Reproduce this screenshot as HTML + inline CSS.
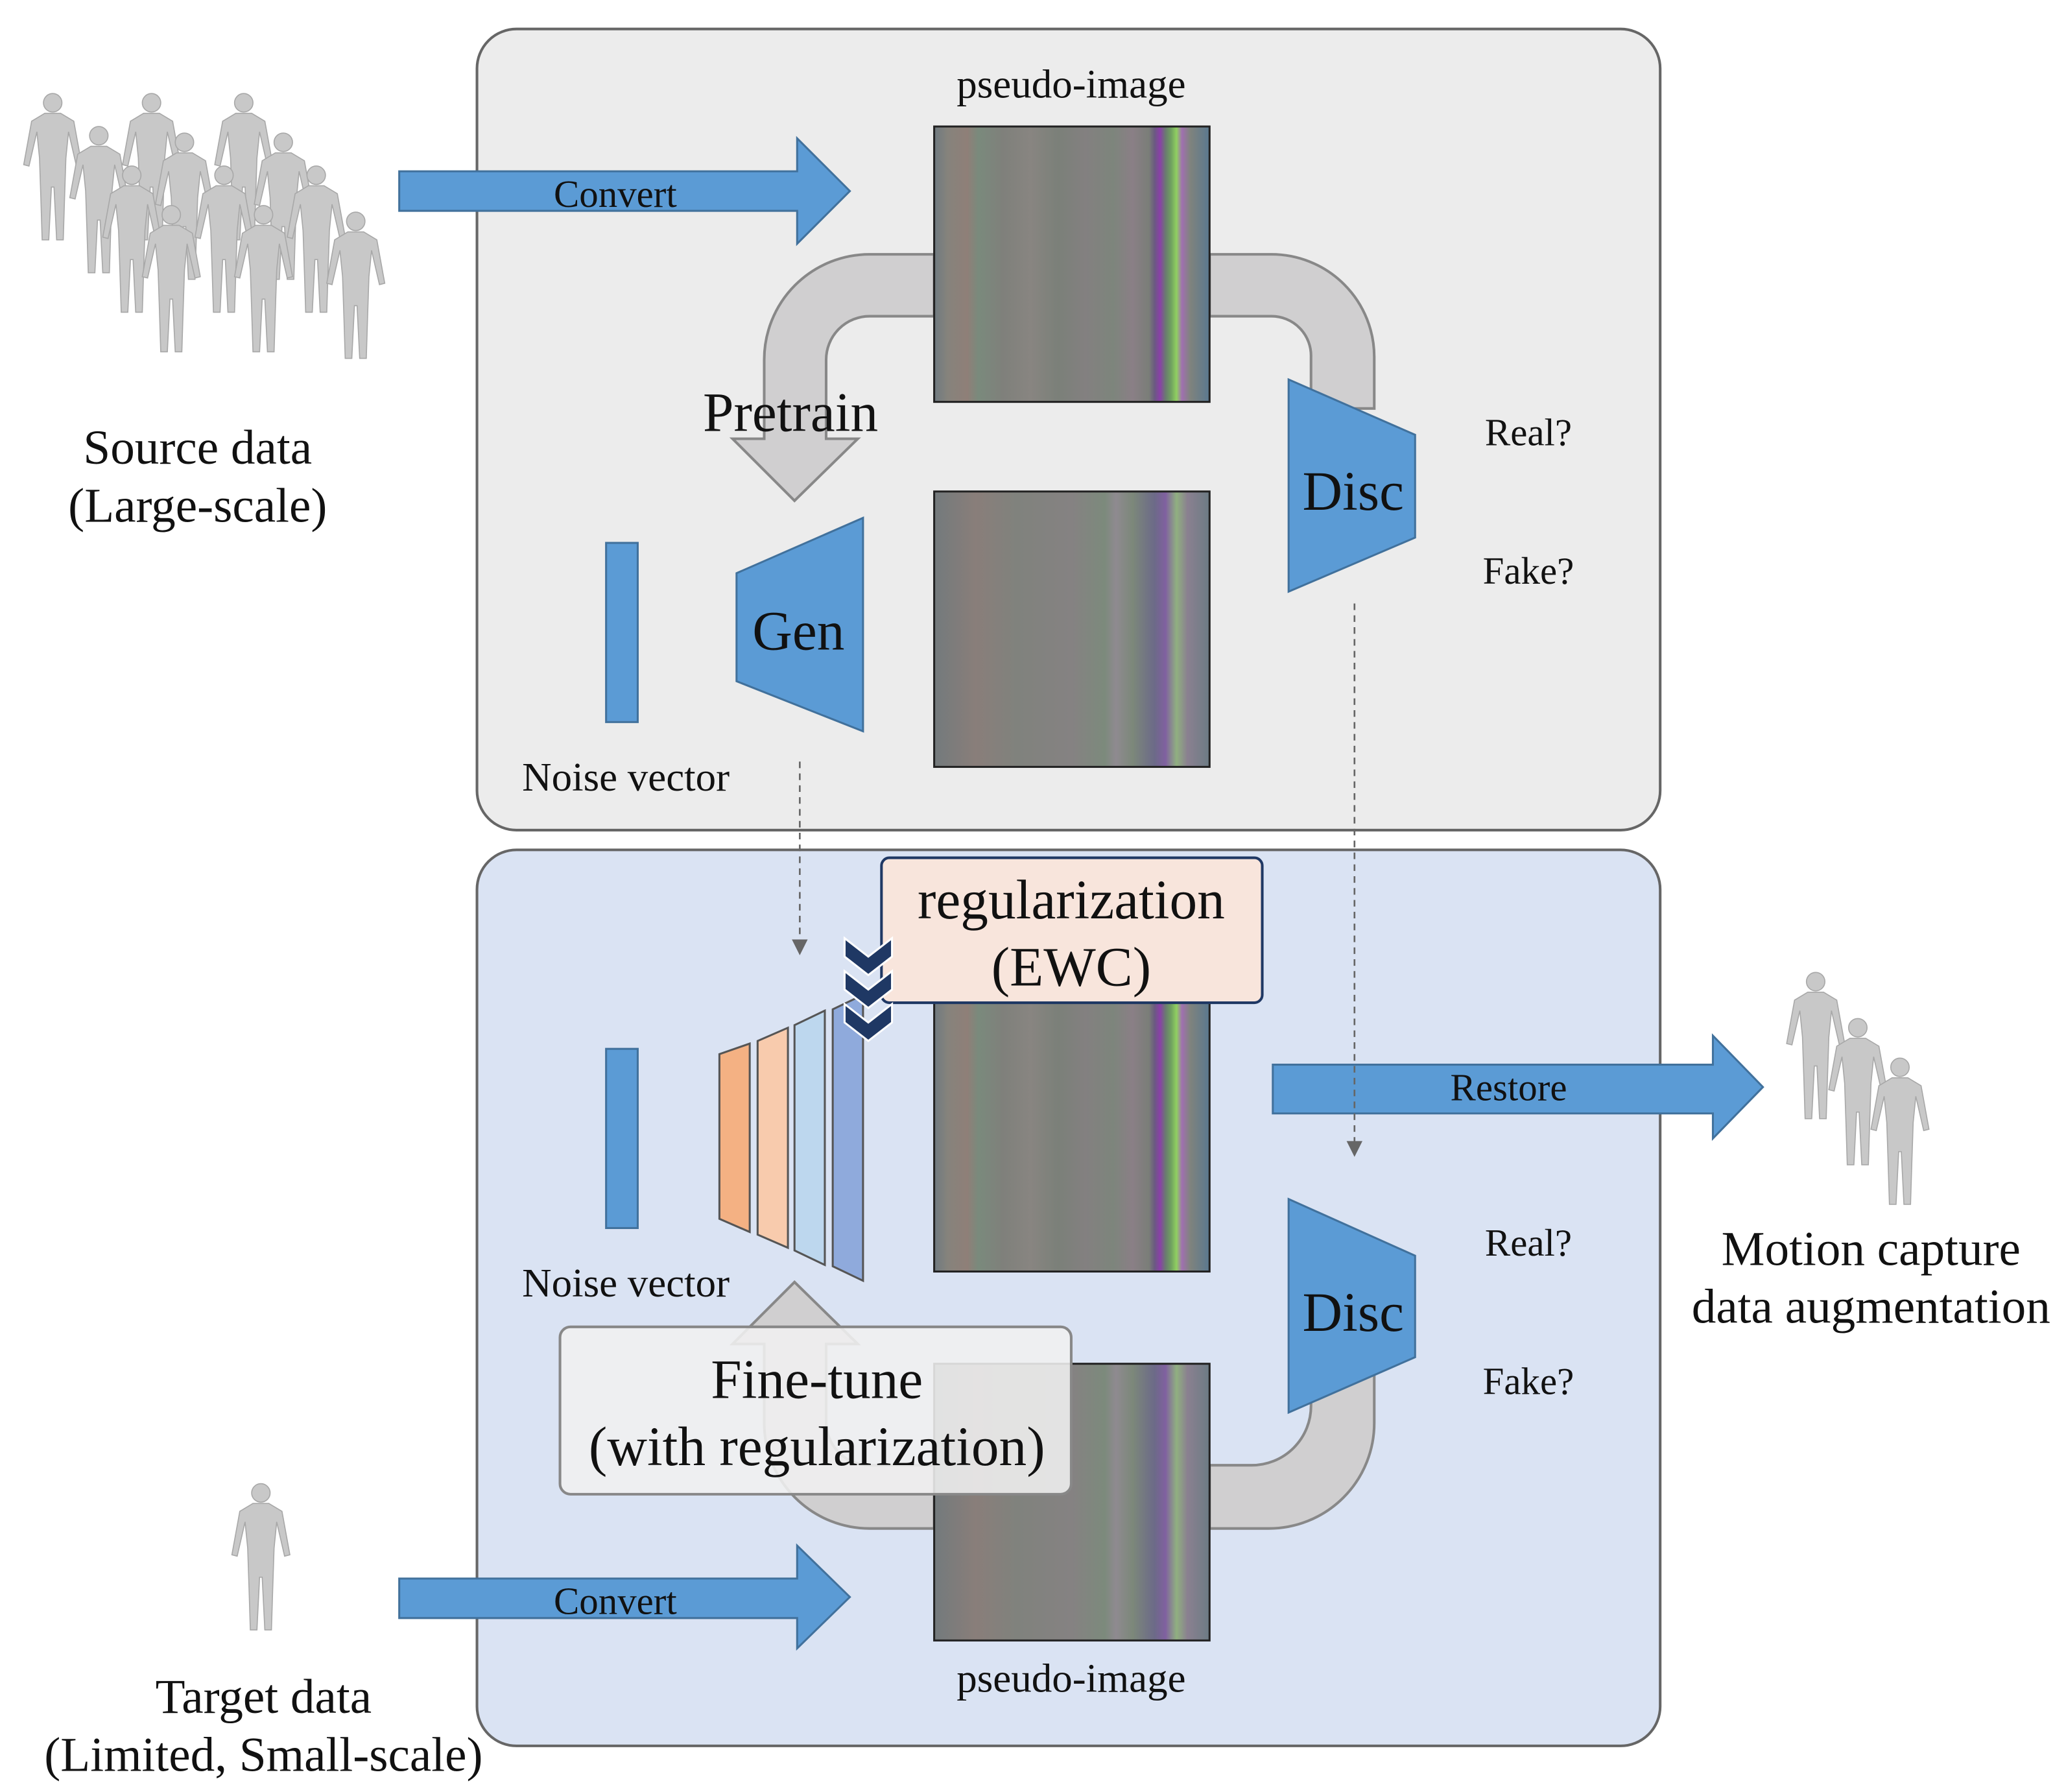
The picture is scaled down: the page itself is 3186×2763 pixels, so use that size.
<!DOCTYPE html>
<html><head><meta charset="utf-8"><style>
html,body{margin:0;padding:0;background:#fff;}
svg{display:block;}
text{font-family:"Liberation Serif",serif;fill:#111;}
</style></head><body>
<svg width="3186" height="2763" viewBox="0 0 1568 1360" preserveAspectRatio="none" xmlns="http://www.w3.org/2000/svg">
<defs>
<linearGradient id="pi" x1="0" x2="1" y1="0" y2="0">
<stop offset="0" stop-color="#6f7a80"/>
<stop offset="0.05" stop-color="#86837c"/>
<stop offset="0.12" stop-color="#8f7f78"/>
<stop offset="0.16" stop-color="#7a8a7c"/>
<stop offset="0.25" stop-color="#7f807b"/>
<stop offset="0.35" stop-color="#888581"/>
<stop offset="0.45" stop-color="#7b8079"/>
<stop offset="0.55" stop-color="#838080"/>
<stop offset="0.65" stop-color="#7d857c"/>
<stop offset="0.72" stop-color="#8a7f86"/>
<stop offset="0.78" stop-color="#7a7e78"/>
<stop offset="0.8" stop-color="#6a5a80"/>
<stop offset="0.82" stop-color="#8a40a8"/>
<stop offset="0.84" stop-color="#6a7a70"/>
<stop offset="0.86" stop-color="#70a060"/>
<stop offset="0.88" stop-color="#90d060"/>
<stop offset="0.9" stop-color="#a070b0"/>
<stop offset="0.93" stop-color="#7f837d"/>
<stop offset="1" stop-color="#5a7890"/>
</linearGradient>
<linearGradient id="pi2" x1="0" x2="1" y1="0" y2="0">
<stop offset="0" stop-color="#737a7c"/>
<stop offset="0.15" stop-color="#897e7a"/>
<stop offset="0.3" stop-color="#80827d"/>
<stop offset="0.5" stop-color="#858282"/>
<stop offset="0.62" stop-color="#7c8a7c"/>
<stop offset="0.66" stop-color="#8f8a90"/>
<stop offset="0.72" stop-color="#7c887a"/>
<stop offset="0.8" stop-color="#6c6a88"/>
<stop offset="0.84" stop-color="#8060a0"/>
<stop offset="0.88" stop-color="#90b080"/>
<stop offset="0.92" stop-color="#8a8090"/>
<stop offset="1" stop-color="#6c7c84"/>
</linearGradient>
<g id="man" fill="#c8c8c8" stroke="#a8a8a8" stroke-width="0.8">
<circle cx="0" cy="-52" r="7"/>
<path d="M-6,-44 L6,-44 L16,-38 L22,-5 L18,-4 L12,-30 L10,-10 L9,20 L8,52 L3,52 L1,12 L-1,12 L-3,52 L-8,52 L-9,20 L-10,-10 L-12,-30 L-18,-4 L-22,-5 L-16,-38 Z"/>
</g>
</defs>

<rect x="362" y="22" width="898" height="608" rx="30" fill="#ececec" stroke="#666" stroke-width="2"/>
<rect x="362" y="645" width="898" height="680" rx="30" fill="#dae3f3" stroke="#666" stroke-width="2"/>

<g>
<use href="#man" transform="translate(40,130)"/>
<use href="#man" transform="translate(75,155)"/>
<use href="#man" transform="translate(115,130)"/>
<use href="#man" transform="translate(140,160)"/>
<use href="#man" transform="translate(185,130)"/>
<use href="#man" transform="translate(215,160)"/>
<use href="#man" transform="translate(100,185)"/>
<use href="#man" transform="translate(170,185)"/>
<use href="#man" transform="translate(240,185)"/>
<use href="#man" transform="translate(130,215)"/>
<use href="#man" transform="translate(200,215)"/>
<use href="#man" transform="translate(270,220)"/>
</g>
<use href="#man" transform="translate(198,1185)"/>
<use href="#man" transform="translate(1378,797)"/>
<use href="#man" transform="translate(1410,832)"/>
<use href="#man" transform="translate(1442,862)"/>

<text x="150" y="352" font-size="37" text-anchor="middle">Source data</text>
<text x="150" y="396" font-size="37" text-anchor="middle">(Large-scale)</text>
<text x="200" y="1300" font-size="37" text-anchor="middle">Target data</text>
<text x="200" y="1344" font-size="37" text-anchor="middle">(Limited, Small-scale)</text>
<text x="1420" y="960" font-size="37" text-anchor="middle">Motion capture</text>
<text x="1420" y="1004" font-size="37" text-anchor="middle">data augmentation</text>

<path d="M303,130 H605 V105 L645,145 L605,185 V160 H303 Z" fill="#5b9bd5" stroke="#41719c" stroke-width="1.5"/>
<text x="467" y="157" font-size="29" text-anchor="middle">Convert</text>
<path d="M303,1198 H605 V1173 L645,1212 L605,1251 V1228 H303 Z" fill="#5b9bd5" stroke="#41719c" stroke-width="1.5"/>
<text x="467" y="1225" font-size="29" text-anchor="middle">Convert</text>
<path d="M966,808 H1300 V786 L1338,825 L1300,864 V845 H966 Z" fill="#5b9bd5" stroke="#41719c" stroke-width="1.5"/>
<text x="1145" y="835" font-size="29" text-anchor="middle">Restore</text>

<path d="M709,193 H660 A80,80 0 0 0 580,273 V333 H556 L603,380 L651,333 H627 V273 A33,33 0 0 1 660,240 H709 Z" fill="#d0cfd0" stroke="#888" stroke-width="2"/>
<path d="M918,193 H965 A78,78 0 0 1 1043,271 V310 H995 V271 A30,30 0 0 0 965,240 H918 Z" fill="#d0cfd0" stroke="#888" stroke-width="2"/>

<rect x="709" y="96" width="209" height="209" fill="url(#pi)" stroke="#222" stroke-width="1.5"/>
<rect x="709" y="373" width="209" height="209" fill="url(#pi2)" stroke="#222" stroke-width="1.5"/>
<rect x="709" y="755" width="209" height="210" fill="url(#pi)" stroke="#222" stroke-width="1.5"/>

<text x="813" y="74" font-size="31" text-anchor="middle">pseudo-image</text>
<text x="600" y="327" font-size="42" text-anchor="middle">Pretrain</text>

<path d="M978,288 L1074,330 V408 L978,449 Z" fill="#5b9bd5" stroke="#41719c" stroke-width="1.5"/>
<text x="1027" y="387" font-size="42" text-anchor="middle">Disc</text>
<text x="1160" y="338" font-size="29" text-anchor="middle">Real?</text>
<text x="1160" y="443" font-size="29" text-anchor="middle">Fake?</text>

<rect x="460" y="412" width="24" height="136" fill="#5b9bd5" stroke="#41719c" stroke-width="1.5"/>
<path d="M559,435 L655,393 V555 L559,517 Z" fill="#5b9bd5" stroke="#41719c" stroke-width="1.5"/>
<text x="606" y="493" font-size="42" text-anchor="middle">Gen</text>
<text x="475" y="600" font-size="31" text-anchor="middle">Noise vector</text>

<line x1="607" y1="578" x2="607" y2="715" stroke="#666" stroke-width="1.3" stroke-dasharray="5,4"/>
<path d="M601,713 L607,725 L613,713 Z" fill="#666"/>
<line x1="1028" y1="458" x2="1028" y2="868" stroke="#666" stroke-width="1.3" stroke-dasharray="5,4"/>
<path d="M1022,866 L1028,878 L1034,866 Z" fill="#666"/>

<path d="M918,1112 H950 A45,45 0 0 0 995,1067 V1040 H1043 V1080 A80,80 0 0 1 963,1160 H918 Z" fill="#d0cfd0" stroke="#888" stroke-width="2"/>
<path d="M709,1112 H660 A33,33 0 0 1 627,1079 V1020 H651 L603,973 L556,1020 H580 V1080 A80,80 0 0 0 660,1160 H709 Z" fill="#d0cfd0" stroke="#888" stroke-width="2"/>

<rect x="709" y="1035" width="209" height="210" fill="url(#pi2)" stroke="#222" stroke-width="1.5"/>
<text x="813" y="1284" font-size="31" text-anchor="middle">pseudo-image</text>

<rect x="425" y="1007" width="388" height="127" rx="8" fill="#f0f0f0" fill-opacity="0.88" stroke="#888" stroke-width="2"/>
<text x="620" y="1061" font-size="42" text-anchor="middle">Fine-tune</text>
<text x="620" y="1112" font-size="42" text-anchor="middle">(with regularization)</text>

<path d="M978,910 L1074,953 V1030 L978,1072 Z" fill="#5b9bd5" stroke="#41719c" stroke-width="1.5"/>
<text x="1027" y="1010" font-size="42" text-anchor="middle">Disc</text>
<text x="1160" y="953" font-size="29" text-anchor="middle">Real?</text>
<text x="1160" y="1058" font-size="29" text-anchor="middle">Fake?</text>

<rect x="460" y="796" width="24" height="136" fill="#5b9bd5" stroke="#41719c" stroke-width="1.5"/>
<path d="M546,800 L569,792 V935 L546,925 Z" fill="#f4b183" stroke="#555" stroke-width="1.5"/>
<path d="M575,790 L598,780 V947 L575,937 Z" fill="#f8cbad" stroke="#555" stroke-width="1.5"/>
<path d="M603,778 L626,767 V960 L603,949 Z" fill="#bdd7ee" stroke="#555" stroke-width="1.5"/>
<path d="M632,766 L655,755 V972 L632,961 Z" fill="#8faadc" stroke="#555" stroke-width="1.5"/>
<text x="475" y="984" font-size="31" text-anchor="middle">Noise vector</text>

<rect x="669" y="651" width="289" height="110" rx="6" fill="#f8e5dc" stroke="#1f3864" stroke-width="2"/>
<text x="813" y="697" font-size="42" text-anchor="middle">regularization</text>
<text x="813" y="748" font-size="42" text-anchor="middle">(EWC)</text>

<g fill="#1f3864" stroke="#fff" stroke-width="1.5">
<path d="M641,712 L659,726 L677,712 V726 L659,740 L641,726 Z"/>
<path d="M641,737 L659,751 L677,737 V751 L659,765 L641,751 Z"/>
<path d="M641,762 L659,776 L677,762 V776 L659,790 L641,776 Z"/>
</g>
</svg>
</body></html>
